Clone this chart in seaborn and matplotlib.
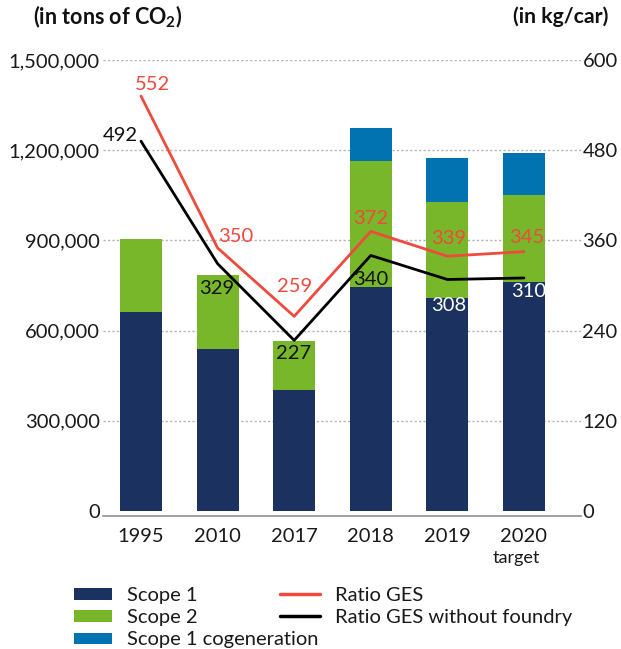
import numpy as np
import pandas as pd
import matplotlib
matplotlib.use("Agg")
import matplotlib.pyplot as plt
from matplotlib.patches import Patch
from matplotlib.lines import Line2D
from matplotlib.ticker import FuncFormatter
import seaborn as sns

# ---- data ----
years = ["1995", "2010", "2017", "2018", "2019", "2020"]
scope1 = [662000, 539000, 402000, 745000, 709000, 762000]
scope2 = [243000, 246000, 163000, 419000, 319000, 289000]
scope1_cogen = [0, 0, 0, 110000, 146000, 140000]
ratio_ges = [552, 350, 259, 372, 339, 345]
ratio_ges_no_foundry = [492, 329, 227, 340, 308, 310]
left_ticks = [0, 300000, 600000, 900000, 1200000, 1500000]
right_ticks = [0, 120, 240, 360, 480, 600]

NAVY = "#1b3260"
GREEN = "#78b72a"
BLUE = "#0073b0"
RED = "#ee4a3e"
BLACK = "#000000"
GRID = "#b4b4b4"

sns.set_theme(style="white")
plt.rcParams["font.family"] = ["Lato", "DejaVu Sans"]
plt.rcParams["mathtext.fontset"] = "custom"
plt.rcParams["mathtext.rm"] = "Lato"
plt.rcParams["mathtext.bf"] = "Lato:bold"
plt.rcParams["text.color"] = "#1a1a1a"

df = pd.DataFrame({
    "year": years,
    "s1": scope1,
    "s2": scope2,
    "cg": scope1_cogen,
})
df["top_s2"] = df["s1"] + df["s2"]
df["top_cg"] = df["top_s2"] + df["cg"]

W, H = 621, 649
fig = plt.figure(figsize=(W / 100, H / 100), dpi=100)
ax = fig.add_axes([102.7 / W, 1 - 515.5 / H, (581 - 102.7) / W, (515.5 - 60) / H])

# stacked bars: draw cumulative totals back to front
bar_w = 0.55
for col, c in [("top_cg", BLUE), ("top_s2", GREEN), ("s1", NAVY)]:
    sns.barplot(data=df, x="year", y=col, order=years, color=c, saturation=1,
                width=bar_w, linewidth=0, ax=ax, zorder=2)

for v in left_ticks[1:]:
    ax.axhline(v, color=GRID, lw=1.0, ls=(0, (1.6, 1.6)), zorder=1)

ax.set_ylim(-15000, 1500000)
ax.set_xlim(-0.5, 5.745)
ax.set_yticks(left_ticks)
ax.yaxis.set_major_formatter(FuncFormatter(lambda v, p: f"{v:,.0f}"))
ax.set_xlabel("")
ax.set_ylabel("")
for s in ["top", "left", "right"]:
    ax.spines[s].set_visible(False)
ax.spines["bottom"].set_color("#9a9a9a")
ax.spines["bottom"].set_linewidth(1.3)
ax.tick_params(axis="y", length=0, pad=2, labelsize=14.5, labelcolor="#1a1a1a")
ax.tick_params(axis="x", length=0, pad=9, labelsize=14.5, labelcolor="#1a1a1a")

# ratio lines on secondary axis
ax2 = ax.twinx()
xs = np.arange(len(years))
sns.lineplot(x=xs, y=ratio_ges, ax=ax2, color=RED, lw=2.0, zorder=3)
sns.lineplot(x=xs, y=ratio_ges_no_foundry, ax=ax2, color=BLACK, lw=2.0, zorder=3)
ax2.set_ylim(-6, 600)
ax2.set_xlim(-0.5, 5.745)
ax2.set_yticks(right_ticks)
ax2.set_ylabel("")
ax2.set_xlabel("")
for s in ax2.spines.values():
    s.set_visible(False)
ax2.tick_params(axis="y", length=0, pad=1, labelsize=14.5, labelcolor="#1a1a1a")

# value labels (offsets in pixels)
red_off = [(12, 12), (18, 11), (0, 30), (0, 13), (1, 18), (3, 14)]
blk_off = [(-21, 6), (-1, -25), (-1, -13), (0, -24), (1, -26), (5, -14)]
blk_col = ["#111111"] * 4 + ["white", "white"]
for i in range(len(years)):
    ax2.annotate(str(ratio_ges[i]), (xs[i], ratio_ges[i]), xytext=red_off[i],
                 textcoords="offset pixels", ha="center", va="center",
                 color=RED, fontsize=14.5, zorder=5)
    ax2.annotate(str(ratio_ges_no_foundry[i]), (xs[i], ratio_ges_no_foundry[i]),
                 xytext=blk_off[i], textcoords="offset pixels", ha="center",
                 va="center", color=blk_col[i], fontsize=14.5, zorder=5)

# "target" under the last year
fig.text(516 / W, 1 - 558 / H, "target", ha="center", va="center", fontsize=13)

# axis headers
fig.text(33 / W, 1 - 17 / H, r"(in tons of CO$_\mathbf{2}$)", ha="left", va="center",
         fontsize=15.5, fontweight="bold", color="#111111")
fig.text(608 / W, 1 - 17 / H, "(in kg/car)", ha="right", va="center",
         fontsize=15.3, fontweight="bold", color="#111111")

# legends
bar_handles = [Patch(facecolor=NAVY, edgecolor="none"),
               Patch(facecolor=GREEN, edgecolor="none"),
               Patch(facecolor=BLUE, edgecolor="none")]
leg1 = fig.legend(bar_handles, ["Scope 1", "Scope 2", "Scope 1 cogeneration"],
                  loc="upper left", bbox_to_anchor=(73.6 / W, 1 - 587 / H),
                  frameon=False, fontsize=14.5, borderpad=0, borderaxespad=0,
                  handlelength=1.9, handleheight=0.5, handletextpad=0.77,
                  labelspacing=0.26)
line_handles = [Line2D([0], [0], color=RED, lw=2.5),
                Line2D([0], [0], color=BLACK, lw=2.5)]
leg2 = fig.legend(line_handles, ["Ratio GES", "Ratio GES without foundry"],
                  loc="upper left", bbox_to_anchor=(280 / W, 1 - 587 / H),
                  frameon=False, fontsize=14.5, borderpad=0, borderaxespad=0,
                  handlelength=2.0, handletextpad=0.72, labelspacing=0.26)
for leg in (leg1, leg2):
    for t in leg.get_texts():
        t.set_color("#1a1a1a")

fig.savefig("out.png", dpi=100)
